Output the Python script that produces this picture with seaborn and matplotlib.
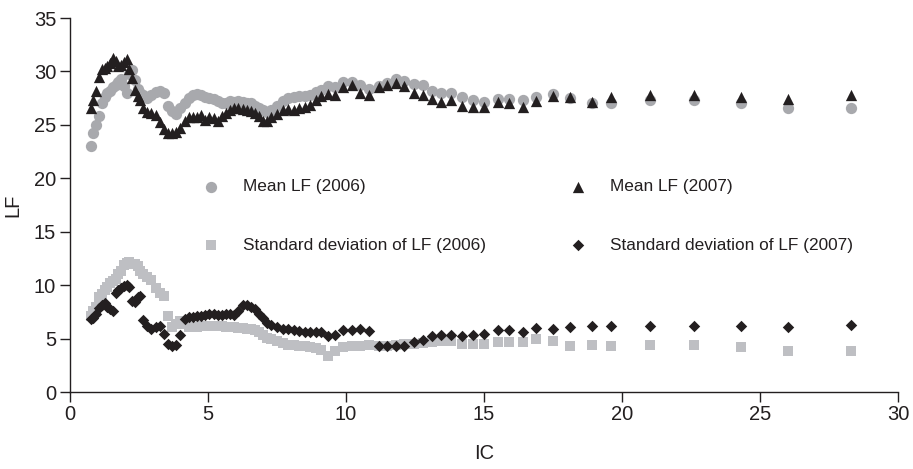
import matplotlib
matplotlib.use('Agg')
import numpy as np
import pandas as pd
from matplotlib import pyplot as plt
import seaborn as sns

# IC values shared by all four series
ic = [0.75, 0.85, 0.95, 1.05, 1.15, 1.25, 1.35, 1.45, 1.55, 1.65,
      1.75, 1.85, 1.95, 2.05, 2.15, 2.25, 2.35, 2.45, 2.55, 2.65,
      2.8, 2.95, 3.1, 3.25, 3.4, 3.55, 3.7, 3.85, 4.0, 4.15,
      4.3, 4.45, 4.6, 4.75, 4.9, 5.05, 5.2, 5.35, 5.5, 5.65,
      5.8, 5.95, 6.1, 6.25, 6.4, 6.55, 6.7, 6.85, 7.0, 7.15,
      7.3, 7.5, 7.7, 7.9, 8.1, 8.3, 8.5, 8.7, 8.9, 9.1,
      9.35, 9.6, 9.9, 10.2, 10.5, 10.85, 11.2, 11.5, 11.8, 12.1,
      12.45, 12.8, 13.1, 13.45, 13.8, 14.2, 14.6, 15.0, 15.5, 15.9,
      16.4, 16.9, 17.5, 18.1, 18.9, 19.6, 21.0, 22.6, 24.3, 26.0, 28.3]

mean_2006 = [23.0, 24.2, 25.0, 25.8, 27.0, 27.6, 28.0, 28.2, 28.5, 28.7,
             29.0, 29.3, 28.6, 28.0, 29.8, 30.1, 29.2, 28.4, 28.0, 27.8,
             27.5, 27.8, 28.1, 28.2, 28.0, 26.8, 26.3, 26.0, 26.6, 27.0,
             27.5, 27.8, 27.9, 27.8, 27.6, 27.5, 27.4, 27.2, 27.0, 27.0,
             27.2, 27.1, 27.2, 27.1, 27.0, 27.0, 26.8, 26.6, 26.4, 26.2,
             26.4, 26.8, 27.2, 27.5, 27.6, 27.7, 27.7, 27.8, 28.1, 28.3,
             28.6, 28.5, 29.0, 29.0, 28.7, 28.4, 28.6, 28.9, 29.3, 29.1,
             28.8, 28.7, 28.2, 28.0, 28.0, 27.6, 27.3, 27.1, 27.4, 27.4,
             27.3, 27.6, 27.9, 27.5, 27.0, 27.0, 27.3, 27.3, 27.0, 26.6, 26.6]

mean_2007 = [26.6, 27.3, 28.2, 29.5, 30.2, 30.3, 30.5, 30.8, 31.3, 31.0,
             30.5, 30.6, 30.9, 31.2, 30.2, 29.4, 28.3, 27.7, 27.3, 26.6,
             26.2, 26.1, 25.9, 25.3, 24.6, 24.2, 24.2, 24.3, 24.7, 25.4,
             25.7, 25.7, 25.7, 25.9, 25.5, 25.7, 25.6, 25.4, 25.8, 26.1,
             26.4, 26.6, 26.6, 26.5, 26.4, 26.3, 26.1, 25.8, 25.4, 25.4,
             25.7, 26.0, 26.4, 26.5, 26.4, 26.6, 26.7, 26.9, 27.3, 27.7,
             27.9, 27.8, 28.5, 28.7, 28.0, 27.8, 28.5, 28.7, 28.9, 28.6,
             28.0, 27.8, 27.4, 27.1, 27.3, 26.8, 26.7, 26.7, 27.1, 27.0,
             26.7, 27.2, 27.7, 27.6, 27.1, 27.6, 27.8, 27.8, 27.6, 27.4, 27.8]

sd_2006 = [7.1, 7.6, 8.0, 8.9, 9.2, 9.5, 9.8, 10.2, 10.4, 10.6,
           11.0, 11.3, 11.9, 12.1, 12.2, 12.0, 12.0, 11.8, 11.3, 11.0,
           10.8, 10.5, 9.7, 9.3, 9.0, 7.1, 6.1, 6.4, 6.6, 6.4,
           6.1, 6.1, 6.1, 6.2, 6.2, 6.2, 6.2, 6.2, 6.2, 6.1,
           6.1, 6.1, 6.0, 6.0, 5.9, 5.9, 5.8, 5.6, 5.3, 5.1,
           5.0, 4.8, 4.6, 4.4, 4.4, 4.3, 4.3, 4.2, 4.1, 3.9,
           3.4, 3.8, 4.2, 4.3, 4.3, 4.4, 4.3, 4.3, 4.4, 4.5,
           4.5, 4.6, 4.7, 4.8, 4.8, 4.5, 4.5, 4.5, 4.7, 4.7,
           4.7, 5.0, 4.8, 4.3, 4.4, 4.3, 4.4, 4.4, 4.2, 3.8, 3.8]

sd_2007 = [6.8, 6.9, 7.3, 7.9, 8.1, 8.3, 8.0, 7.8, 7.6, 9.3,
           9.5, 9.7, 9.9, 10.0, 9.8, 8.5, 8.4, 8.9, 9.0, 6.7,
           6.2, 5.9, 6.1, 6.2, 5.4, 4.5, 4.3, 4.4, 5.3, 6.8,
           7.0, 7.0, 7.1, 7.1, 7.2, 7.3, 7.3, 7.2, 7.2, 7.3,
           7.3, 7.2, 7.6, 8.1, 8.1, 8.0, 7.8, 7.3, 6.9, 6.5,
           6.3, 6.1, 5.9, 5.9, 5.8, 5.7, 5.6, 5.6, 5.6, 5.6,
           5.2, 5.3, 5.8, 5.8, 5.9, 5.7, 4.3, 4.3, 4.3, 4.3,
           4.7, 4.9, 5.2, 5.3, 5.3, 5.2, 5.3, 5.4, 5.8, 5.8,
           5.6, 6.0, 5.9, 6.1, 6.2, 6.2, 6.2, 6.2, 6.2, 6.1, 6.3]

labels = ['Mean LF (2006)', 'Mean LF (2007)',
          'Standard deviation of LF (2006)', 'Standard deviation of LF (2007)']

sns.set_style('ticks')
plt.rcParams['font.family'] = ['Liberation Sans', 'DejaVu Sans']

fig = plt.figure(figsize=(9.13, 4.69), dpi=100)
ax = fig.add_axes([70 / 913, 1 - 392 / 469, 828 / 913, 374 / 469])

# (values, marker, colour, size) - drawn in this order so dark marks sit on top
series = [
    (mean_2006, 'o', '#a8a9ad', 66),
    (mean_2007, '^', '#231f20', 66),
    (sd_2006, 's', '#bebfc3', 60),
    (sd_2007, 'D', '#231f20', 34),
]

for (vals, mk, col, sz), lab in zip(series, labels):
    df = pd.DataFrame({'IC': ic, 'LF': vals})
    sns.scatterplot(data=df, x='IC', y='LF', marker=mk, color=col, s=sz,
                    linewidth=0, ax=ax, label=lab, legend=False)

ax.set_xlim(0, 30)
ax.set_ylim(0, 35)
ax.set_xticks(range(0, 31, 5))
ax.set_yticks(range(0, 36, 5))
ax.tick_params(axis='both', labelsize=14.5, length=7, width=1, color='#231f20',
               labelcolor='#231f20', direction='out')
ax.tick_params(axis='x', pad=2.5)
ax.tick_params(axis='y', pad=3)
ax.set_xlabel('IC', fontsize=14.5, color='#231f20', labelpad=14)
ax.set_ylabel('LF', fontsize=14.5, color='#231f20', labelpad=8)
for sp in ['left', 'bottom']:
    ax.spines[sp].set_color('#231f20')
    ax.spines[sp].set_linewidth(1)
sns.despine(ax=ax)

h, l = ax.get_legend_handles_labels()
# legend fills columns first, so reorder to get means on the top row
order = [0, 2, 1, 3]
ax.legend([h[i] for i in order], [l[i] for i in order], ncol=2, frameon=False,
          fontsize=12.4, labelspacing=2.5, columnspacing=4.35, handletextpad=0.86,
          loc='center', bbox_to_anchor=(0.5477, 0.4706), labelcolor='#231f20')

plt.savefig('out.png', dpi=100)
plt.close()
